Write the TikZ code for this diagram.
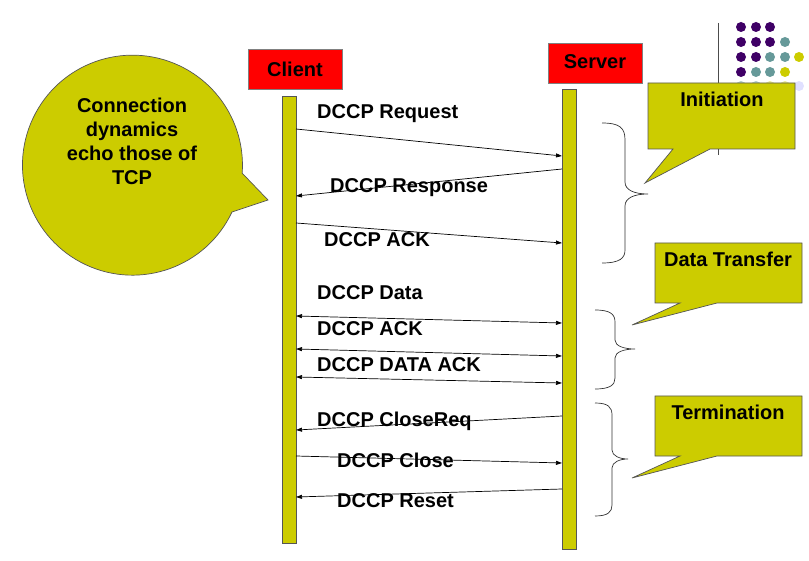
\documentclass[tikz,border=0pt]{standalone}
\usepackage{fontspec}
\setmainfont{Liberation Sans}
\usetikzlibrary{arrows.meta}
\definecolor{olive}{HTML}{CCCC00}
\definecolor{dpurple}{HTML}{3F0066}
\definecolor{dteal}{HTML}{669999}
\definecolor{edge}{HTML}{555555}
\begin{document}
\begin{tikzpicture}[x=1pt,y=-1pt,
  lbl/.style={font=\fontsize{20}{24}\selectfont\bfseries, inner sep=0pt},
  bar/.style={fill=olive, draw=edge, line width=0.8pt},
  head/.style={fill=red, draw=gray, line width=0.8pt},
  msg/.style={draw=black, line width=0.7pt, -{Triangle[length=6pt,width=4pt]}},
  dmsg/.style={draw=black, line width=0.7pt, {Triangle[length=6pt,width=4pt]}-{Triangle[length=6pt,width=4pt]}},
  callout/.style={fill=olive, draw=edge, line width=0.7pt},
  brace/.style={draw=black!80, line width=0.7pt}]
\useasboundingbox (0,0) rectangle (809,561);

% decoration top right
\draw[black!70, line width=0.8pt] (718,23) -- (718,155);
\foreach \x/\y/\c in {741/27/dpurple,756/27/dpurple,770/27/dpurple,
  741/42/dpurple,756/42/dpurple,770/42/dpurple,785/42/dteal,
  741/57/dpurple,756/57/dpurple,770/57/dteal,785/57/dteal,799/57/olive,
  741/72/dpurple,756/72/dteal,770/72/dteal,785/72/olive,
  741/86/dteal!50,756/86/dteal!50,770/86/olive!40,785/86/olive!40,799/86/blue!12}
  \fill[\c] (\x,\y) circle (5);

% speech bubble
\path[callout] (242,173) -- (268,200) -- (232,212)
  arc[start angle=25.2, end angle=364.2, radius=110] -- cycle;
\node[lbl, align=center, anchor=north] (bubble) at (132,98)
  {Connection\\dynamics\\echo those of\\TCP};

% headers
\draw[head] (248,49) rectangle (342,89);
\node[lbl, anchor=base] (client) at (295,77) {Client};
\draw[head] (548,43) rectangle (642,83);
\node[lbl, anchor=base] (server) at (595,69) {Server};

% lifelines
\draw[bar] (282,96) rectangle (296,543);
\draw[bar] (562,89) rectangle (576,549);

% coordinates on lifelines
\coordinate (c1) at (296,129); \coordinate (s1) at (562,156);
\coordinate (s2) at (562,169); \coordinate (c2) at (296,196);
\coordinate (c3) at (296,223); \coordinate (s3) at (562,243);
\coordinate (c4) at (296,316); \coordinate (s4) at (562,323);
\coordinate (c5) at (296,349); \coordinate (s5) at (562,356);
\coordinate (c6) at (296,377); \coordinate (s6) at (562,383);
\coordinate (s7) at (562,416); \coordinate (c7) at (296,430);
\coordinate (c8) at (296,456); \coordinate (s8) at (562,463);
\coordinate (s9) at (562,489); \coordinate (c9) at (296,497);

% labels
\node[lbl, anchor=base west] (l1) at (317,119) {DCCP Request};
\node[lbl, anchor=base west] (l2) at (330,193) {DCCP Response};
\node[lbl, anchor=base west] (l3) at (324,247) {DCCP ACK};
\node[lbl, anchor=base west] (l4) at (317,300) {DCCP Data};
\node[lbl, anchor=base west] (l5) at (317,336) {DCCP ACK};
\node[lbl, anchor=base west] (l6) at (317,372) {DCCP DATA ACK};
\node[lbl, anchor=base west] (l7) at (317,427) {DCCP CloseReq};
\node[lbl, anchor=base west] (l8) at (337,467) {DCCP Close};
\node[lbl, anchor=base west] (l9) at (337,507) {DCCP Reset};

% messages
\draw[msg] (c1) -- (s1);
\draw[msg] (s2) -- (c2);
\draw[msg] (c3) -- (s3);
\draw[dmsg] (c4) -- (s4);
\draw[dmsg] (c5) -- (s5);
\draw[dmsg] (c6) -- (s6);
\draw[msg] (s7) -- (c7);
\draw[msg] (c8) -- (s8);
\draw[msg] (s9) -- (c9);

% braces
\draw[brace] (602,123) .. controls (620,123) and (625,128) .. (625,140) -- (625,182)
  .. controls (625,190) and (634,194) .. (648,194)
  .. controls (634,194) and (625,198) .. (625,206) -- (625,250)
  .. controls (625,258) and (620,263) .. (602,263);
\draw[brace] (595,310) .. controls (610,310) and (615,314) .. (615,322) -- (615,340)
  .. controls (615,346) and (624,349) .. (635,349)
  .. controls (624,349) and (615,352) .. (615,358) -- (615,378)
  .. controls (615,385) and (610,389) .. (595,389);
\draw[brace] (595,403) .. controls (608,403) and (612,407) .. (612,415) -- (612,450)
  .. controls (612,456) and (620,459) .. (628,459)
  .. controls (620,459) and (612,462) .. (612,468) -- (612,505)
  .. controls (612,512) and (608,516) .. (595,516);

% callouts
\path[callout] (648,83) -- (795,83) -- (795,149) -- (710,149) -- (645,183) -- (673,149) -- (648,149) -- cycle;
\node[lbl, anchor=base] (init) at (722,107) {Initiation};
\path[callout] (655,243) -- (802,243) -- (802,303) -- (717,303) -- (632,325) -- (680,303) -- (655,303) -- cycle;
\node[lbl, anchor=base] (data) at (728,267) {Data Transfer};
\path[callout] (655,396) -- (802,396) -- (802,456) -- (717,456) -- (632,478) -- (680,456) -- (655,456) -- cycle;
\node[lbl, anchor=base] (term) at (728,420) {Termination};
\end{tikzpicture}
\end{document}
